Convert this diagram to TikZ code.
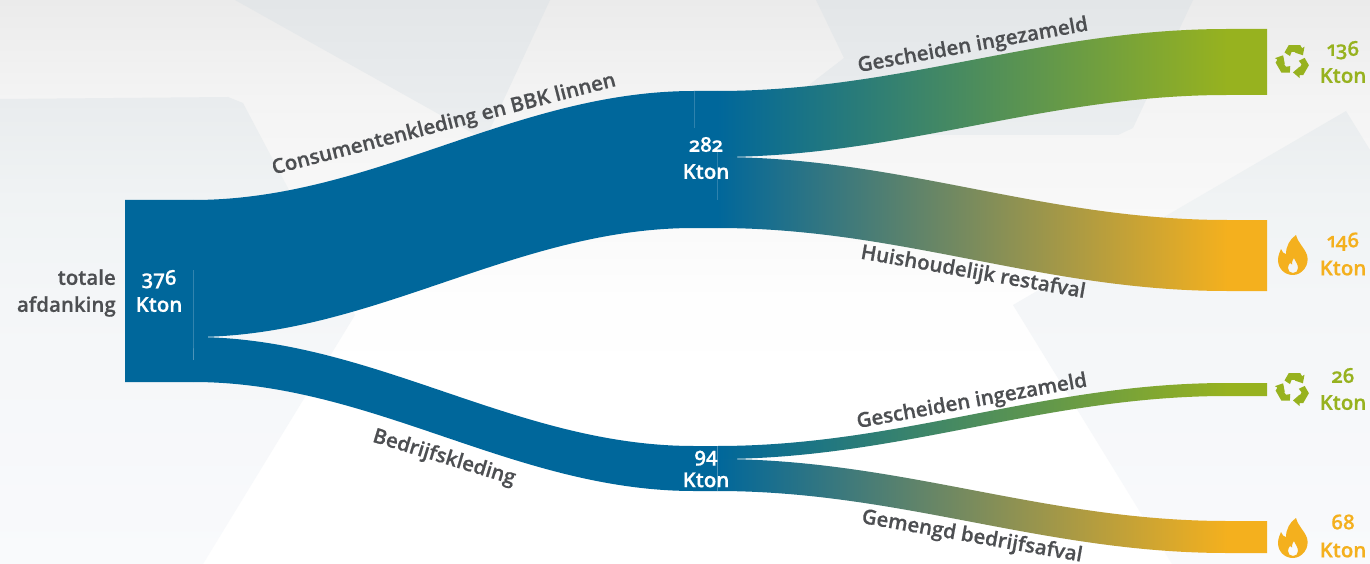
\documentclass[tikz,border=0pt]{standalone}
\usepackage{fontspec}
\setmainfont[Numbers=OldStyle,BoldFont={Open Sans Semibold},BoldFeatures={FakeBold=0.5}]{Open Sans}
\definecolor{flowblue}{RGB}{0,103,155}
\definecolor{flowgreen}{RGB}{151,178,31}
\definecolor{floworange}{RGB}{244,176,30}
\definecolor{labelgray}{RGB}{77,79,82}
\definecolor{pageA}{RGB}{235,235,235}
\definecolor{pageB}{RGB}{244,244,244}
\definecolor{pageC}{RGB}{248,248,248}
\definecolor{pageD}{RGB}{254,254,254}
\definecolor{facetA}{RGB}{227,230,232}
\definecolor{facetB}{RGB}{233,236,238}
\definecolor{facetC}{RGB}{240,243,244}
\definecolor{facetD}{RGB}{244,246,248}
\definecolor{facetE}{RGB}{249,250,252}
\pgfdeclarehorizontalshading{bluegreen}{100bp}{color(0bp)=(flowblue);color(25bp)=(flowblue);color(71.4bp)=(flowgreen);color(100bp)=(flowgreen)}
\pgfdeclarehorizontalshading{blueorange}{100bp}{color(0bp)=(flowblue);color(25bp)=(flowblue);color(71.4bp)=(floworange);color(100bp)=(floworange)}
\pgfdeclareverticalshading{pagebg}{100bp}{color(0bp)=(white);color(39.5bp)=(white);color(48.4bp)=(pageD);color(57.3bp)=(pageC);color(66.1bp)=(pageB);color(75bp)=(pageA);color(100bp)=(pageA)}
\pgfdeclareverticalshading{facetbg}{100bp}{color(0bp)=(facetE);color(25bp)=(facetE);color(48.4bp)=(facetD);color(57.3bp)=(facetC);color(66.1bp)=(facetB);color(75bp)=(facetA);color(100bp)=(facetA)}
\tikzset{
  x=1pt,y=-1pt,
  blueflow/.style={fill=flowblue,draw=none},
  greenflow/.style={shading=bluegreen,draw=none},
  orangeflow/.style={shading=blueorange,draw=none},
  seam/.style={draw=white,line width=0.7pt,opacity=0.3},
  faintseam/.style={draw=white,line width=0.6pt,opacity=0.18},
  flowlabel/.style={font=\fontsize{20.5}{20.5}\selectfont\bfseries,text=labelgray,inner sep=0pt},
  whitevalue/.style={font=\fontsize{20.5}{27}\selectfont\bfseries,text=white,align=center,inner sep=0pt},
  greenvalue/.style={font=\fontsize{20.5}{27}\selectfont\bfseries,text=flowgreen,align=center,inner sep=0pt},
  orangevalue/.style={font=\fontsize{20.5}{28}\selectfont\bfseries,text=floworange,align=center,inner sep=0pt},
}
% recycle symbol: three chasing arrows centred on the origin
\newcommand{\recyclearm}[1]{%
  \fill[#1] (10.4,-6) -- (1.7,-9) -- (3.6,-9.7) -- (-1.5,-9.5) -- (-3.2,-5.2) -- (-8.95,-9)
     -- (-4.5,-16.7) -- (7.65,-16.7) -- (9.5,-13.5) -- (12.1,-15) -- cycle;}
\newcommand{\recycleicon}[3]{%
  \begin{scope}[shift={(#1,#2)},scale=0.95]
    \recyclearm{#3}
    \begin{scope}[rotate=120]\recyclearm{#3}\end{scope}
    \begin{scope}[rotate=240]\recyclearm{#3}\end{scope}
  \end{scope}}
\newcommand{\flameicon}[2]{%
  \begin{scope}[shift={(#1,#2)}]
    \fill[floworange,even odd rule] (3,-20) .. controls (5,-12) and (11,-8) .. (14,0)
      .. controls (17,10) and (9,20) .. (0,20) .. controls (-9,20) and (-15,13) .. (-15,5)
      .. controls (-15,0) and (-13,-3) .. (-12,-6) .. controls (-11,-3) and (-9,-1) .. (-7,-1)
      .. controls (-7,-9) and (-3,-16) .. (3,-20) -- cycle
      (1,3) .. controls (2,6) and (5,9) .. (5,13) .. controls (5,16) and (3,18) .. (0,18)
      .. controls (-3,18) and (-5,16) .. (-5,13) .. controls (-5,11) and (-4,9) .. (-3,8)
      .. controls (-2.5,9) and (-2,9.5) .. (-1,9.5) .. controls (-1,6) and (0,4) .. (1,3) -- cycle;
  \end{scope}}
\begin{document}
\begin{tikzpicture}
\useasboundingbox (0,0) rectangle (1370,564);
% background
\shade[shading=pagebg] (0,0) rectangle (1370,564);
\begin{scope}
  \clip (0,99) -- (228,97) -- (243,103) -- (355,315) -- (203,564) -- (0,564) -- cycle
        (235,0) -- (485,140) -- (550,0) -- cycle
        (816,0) -- (844,58) -- (770,115) -- (770,135) -- (1118,135) -- (1133,128) -- (1193,0) -- cycle
        (1346,111) -- (1013,305) -- (1172,564) -- (1370,564) -- (1370,150) -- cycle;
  \shade[shading=facetbg] (0,0) rectangle (1370,564);
\end{scope}
% left block and blue flows
\coordinate (srcTL) at (125,200);
\coordinate (srcBL) at (125,382);
\coordinate (srcTR) at (193,200);
\coordinate (srcMR) at (193,337);
\coordinate (srcBR) at (193,382);
\coordinate (midAT) at (694,91);
\coordinate (midAB) at (694,228);
\coordinate (midBT) at (694,446);
\coordinate (midBB) at (694,491);
\fill[blueflow] (srcTL) -- (srcTR) -- (srcMR) -- (srcBR) -- (srcBL) -- cycle;
\fill[blueflow] (srcTR) .. controls (373,200) and (514,91) .. (midAT) -- (717,91) -- (717,228) -- (midAB)
   .. controls (514,228) and (373,337) .. (srcMR) -- cycle;
\fill[blueflow] (srcMR) .. controls (373,337) and (514,446) .. (midBT) -- (717,446) -- (717,491) -- (midBB)
   .. controls (514,491) and (373,382) .. (srcBR) -- cycle;
% coloured flows
\path[greenflow] (717,91) .. controls (901,91) and (1043,29) .. (1227,29) -- (1267,29) -- (1267,95) -- (1227,95)
   .. controls (1043,95) and (901,157) .. (717,157) -- cycle;
\path[orangeflow] (717,157) .. controls (901,157) and (1043,220) .. (1227,220) -- (1267,220) -- (1267,291) -- (1227,291)
   .. controls (1043,291) and (901,228) .. (717,228) -- cycle;
\path[greenflow] (717,446) .. controls (901,446) and (1043,383) .. (1227,383) -- (1267,383) -- (1267,396) -- (1227,396)
   .. controls (1043,396) and (901,459) .. (717,459) -- cycle;
\path[orangeflow] (717,459) .. controls (901,459) and (1043,521) .. (1227,521) -- (1267,521) -- (1267,553) -- (1227,553)
   .. controls (1043,553) and (901,491) .. (717,491) -- cycle;
% faint seams between the blocks
\draw[seam] (193,270) -- (srcMR) -- (193,360);
\draw[faintseam] (694,91) -- (694,128);
\draw[faintseam] (717,146) -- (717,200);
\draw[seam] (717,446) -- (717,491);
% flow labels
\node[flowlabel,rotate=14.5] (lblcons) at (444,125) {Consumentenkleding en BBK linnen};
\node[flowlabel,rotate=-17] (lblbedr) at (444,458) {Bedrijfskleding};
\node[flowlabel,rotate=10.3] (lblgi1) at (973,46) {Gescheiden ingezameld};
\node[flowlabel,rotate=10.3] (lblgi2) at (972,402) {Gescheiden ingezameld};
\node[flowlabel,rotate=-10] (lblhuis) at (973,273) {Huishoudelijk restafval};
\node[flowlabel,rotate=-10] (lblgem) at (972,537) {Gemengd bedrijfsafval};
% values
\node[flowlabel,align=right,anchor=east,font=\fontsize{20.5}{27}\selectfont\bfseries] (total) at (116,293) {totale\\afdanking};
\node[whitevalue] (v376) at (159,291) {376\\Kton};
\node[whitevalue] (v282) at (706,158) {282\\Kton};
\node[whitevalue,font=\fontsize{20.5}{25}\selectfont\bfseries] (v94) at (706,469) {94\\Kton};
\node[greenvalue] (v136) at (1343,62) {136\\Kton};
\node[orangevalue] (v146) at (1343,254) {146\\Kton};
\node[greenvalue] (v26) at (1343,389) {26\\Kton};
\node[orangevalue] (v68) at (1343,536) {68\\Kton};
% icons
\recycleicon{1293}{61}{flowgreen}
\flameicon{1293}{255}
\recycleicon{1293}{389}{flowgreen}
\flameicon{1293}{538}
\end{tikzpicture}
\end{document}
